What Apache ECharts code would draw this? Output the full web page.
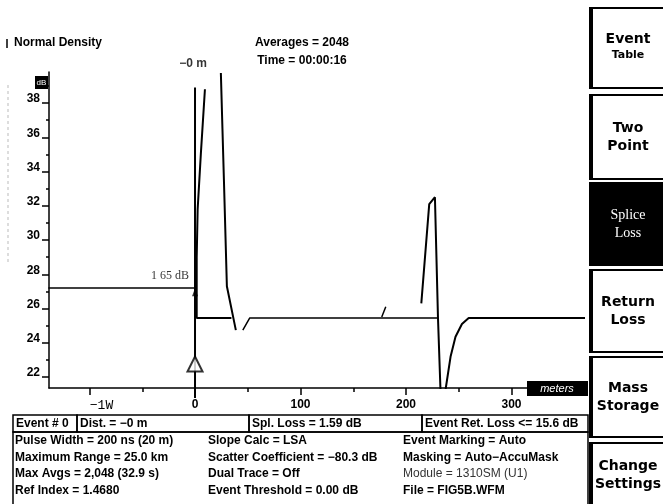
<!DOCTYPE html>
<html><head><meta charset="utf-8">
<script src="https://cdn.jsdelivr.net/npm/echarts@6/dist/echarts.min.js"></script>
<style>html,body{margin:0;padding:0;background:#fff}#c{width:663px;height:504px}</style>
</head><body><div id="c"></div>
<script>
// ---- axis ticks / labels ----
const yTickValues = [22, 24, 26, 28, 30, 32, 34, 36, 38];
const yMinorValues = [23, 25, 27, 29, 31, 33, 35, 37, 39];
const xTickValues = [-100, 0, 100, 200, 300];
const xMinorValues = [-50, 50, 150, 250, 350];
const xTickLabels = { '-100': '−1W', '0': '0', '100': '100', '200': '200', '300': '300' };
const cursorTickValues = [0];

// ---- trace data: [distance m, level dB] ----
const traceLaunch = [[-139, 27.2], [0, 27.2]];
const traceCursor = [[0, 20.5], [0, 38.9]];
const traceB = [[9.4, 38.8], [5.5, 35.0], [2.5, 31.8], [1.6, 29.0], [1.6, 25.45], [34.5, 25.45]];
const traceC = [[24.5, 39.75], [26.0, 36.5], [27.4, 33.5], [30.2, 27.3], [38.7, 24.74]];
const traceFiber = [[45.3, 24.74], [51.9, 25.45], [230.3, 25.45]];
const traceStub = [[177.0, 25.5], [180.8, 26.1]];
const traceSpike = [[214.5, 26.3], [222.0, 32.1], [227.4, 32.5], [230.3, 25.45], [232.6, 21.36], [233.5, 20.6]];
const traceRecovery = [[236.5, 20.6], [237.7, 21.36], [242.2, 23.18], [246.9, 24.35], [253.0, 25.1], [259.4, 25.45], [370, 25.45]];
const cursorMarker = [[0, 22.76]];
const arrowMarker = [[0, 26.95]];
const labelTop = [[0, 38.9]];
const labelLoss = [[0, 27.2]];

const FONT = '"Liberation Sans", Arial, sans-serif';
const chart = echarts.init(document.getElementById('c'), null, { renderer: 'canvas' });

function lineSeries(data, w) {
  return { type: 'line', data: data, symbol: 'none', silent: true, clip: true,
    lineStyle: { color: '#000', width: w || 2 }, animation: false, z: 3 };
}

const graphic = [];
function txt(x, y, s, opt) {
  opt = opt || {};
  graphic.push({ type: 'text', x: x, y: y, z: 20, style: {
    text: s, fill: opt.fill || '#000', textAlign: opt.align || 'left', textVerticalAlign: 'middle',
    font: opt.font || ('bold 12px ' + FONT) } });
}
function rect(x, y, w, h, opt) {
  opt = opt || {};
  graphic.push({ type: 'rect', z: opt.z || 15, shape: { x: x, y: y, width: w, height: h },
    style: { fill: opt.fill || null, stroke: opt.stroke || null, lineWidth: opt.lw || 1.5 } });
}

// header texts
txt(14, 43, 'Normal Density');
txt(302, 43, 'Averages = 2048', { align: 'center' });
txt(302, 61, 'Time = 00:00:16', { align: 'center' });
graphic.push({ type: 'line', z: 20, shape: { x1: 7, y1: 39, x2: 7, y2: 48 }, style: { stroke: '#000', lineWidth: 1.5 } });
graphic.push({ type: 'line', z: 1, shape: { x1: 8, y1: 85, x2: 8, y2: 265 }, style: { stroke: '#bbb', lineWidth: 1, lineDash: [3, 3] } });

// dB box
rect(35, 76, 13, 13, { fill: '#000' });
txt(41.5, 83, 'dB', { align: 'center', fill: '#fff', font: '8px ' + FONT });

// meters box
rect(527, 381, 61, 15, { fill: '#000', z: 16 });
txt(557, 388.5, 'meters', { align: 'center', fill: '#fff', font: 'italic 11px ' + FONT });

// info table row 1
const row1 = [[13, 64, 'Event # 0'], [77, 172, 'Dist. = −0 m'], [249, 173, 'Spl. Loss = 1.59 dB'], [422, 166, 'Event Ret. Loss <= 15.6 dB']];
row1.forEach(function (r) { rect(r[0], 415, r[1], 17, { stroke: '#000', lw: 1.5 }); txt(r[0] + 3, 424, r[2]); });
rect(13, 432, 575, 80, { stroke: '#000', lw: 1.5 });
const infoCols = [15, 208, 403];
const infoRows = [441, 458, 474, 491];
const infoText = [
  ['Pulse Width = 200 ns (20 m)', 'Maximum Range = 25.0 km', 'Max Avgs = 2,048 (32.9 s)', 'Ref Index = 1.4680'],
  ['Slope Calc = LSA', 'Scatter Coefficient = −80.3 dB', 'Dual Trace = Off', 'Event Threshold = 0.00 dB'],
  ['Event Marking = Auto', 'Masking = Auto−AccuMask', 'Module = 1310SM (U1)', 'File = FIG5B.WFM']
];
infoText.forEach(function (col, ci) {
  col.forEach(function (s, ri) {
    const light = (ci === 2 && ri === 2);
    txt(infoCols[ci], infoRows[ri], s, light ? { font: '12px ' + FONT, fill: '#333' } : {});
  });
});

// soft-key buttons
const buttons = [
  [8, 80, 'Event', 'Table', false],
  [95, 84, 'Two', 'Point', false],
  [183, 82, 'Splice', 'Loss', true],
  [270, 82, 'Return', 'Loss', false],
  [357, 80, 'Mass', 'Storage', false],
  [443, 64, 'Change', 'Settings', false]
];
buttons.forEach(function (b) {
  const y = b[0], h = b[1];
  if (b[4]) {
    rect(590, y, 80, h, { fill: '#000', stroke: '#000', lw: 2 });
    txt(628, y + h / 2 - 9, b[2], { align: 'center', fill: '#fff', font: '14px "Liberation Serif", serif' });
    txt(628, y + h / 2 + 9, b[3], { align: 'center', fill: '#fff', font: '14px "Liberation Serif", serif' });
  } else {
    rect(590, y, 80, h, { fill: '#fff', stroke: '#000', lw: 2 });
    rect(589, y, 4, h, { fill: '#000' });
    const small = b[3] === 'Table';
    txt(628, y + h / 2 - 9, b[2], { align: 'center', font: 'bold 14px "DejaVu Sans", sans-serif' });
    txt(628, y + h / 2 + (small ? 7 : 9), b[3], { align: 'center', font: 'bold ' + (small ? 11 : 14) + 'px "DejaVu Sans", sans-serif' });
  }
});

const option = {
  animation: false,
  backgroundColor: '#fff',
  grid: { left: 49, top: 72, width: 535, height: 316, containLabel: false },
  xAxis: [
    { type: 'value', min: -138.4, max: 368.7, position: 'bottom',
      axisLine: { show: true, onZero: false, lineStyle: { color: '#000', width: 1.5 } },
      axisTick: { show: true, customValues: xTickValues, length: 7, lineStyle: { color: '#000', width: 1.5 } },
      axisLabel: { show: true, customValues: xTickValues, margin: 11, color: '#000', fontSize: 12, fontWeight: 'bold', fontFamily: FONT,
        formatter: function (v) { return v === -100 ? '{m|' + xTickLabels[v] + '}' : xTickLabels[v]; },
        rich: { m: { fontFamily: '"Liberation Mono", monospace', fontWeight: 'normal', fontSize: 13, color: '#000', padding: [0, 0, 0, 24] } } },
      splitLine: { show: false } },
    { type: 'value', min: -138.4, max: 368.7, position: 'bottom', offset: 0,
      axisLine: { show: false, onZero: false },
      axisTick: { show: true, customValues: xMinorValues, length: 4, lineStyle: { color: '#000', width: 1.5 } },
      axisLabel: { show: false }, splitLine: { show: false } },
    { type: 'value', min: -138.4, max: 368.7, position: 'bottom', offset: 0,
      axisLine: { show: false, onZero: false },
      axisTick: { show: true, customValues: cursorTickValues, length: 10, lineStyle: { color: '#000', width: 2 } },
      axisLabel: { show: false }, splitLine: { show: false } }
  ],
  yAxis: [
    { type: 'value', min: 21.36, max: 39.81, position: 'left',
      axisLine: { show: true, onZero: false, lineStyle: { color: '#000', width: 1.5 } },
      axisTick: { show: true, customValues: yTickValues, length: 7, lineStyle: { color: '#000', width: 1.5 } },
      axisLabel: { show: true, customValues: yTickValues, margin: 9, color: '#000', fontSize: 12, fontWeight: 'bold', fontFamily: FONT, verticalAlign: 'bottom', lineHeight: 8 },
      splitLine: { show: false } },
    { type: 'value', min: 21.36, max: 39.81, position: 'left', offset: 0,
      axisLine: { show: false, onZero: false },
      axisTick: { show: true, customValues: yMinorValues, length: 3, lineStyle: { color: '#000', width: 1.5 } },
      axisLabel: { show: false }, splitLine: { show: false } }
  ],
  series: [
    lineSeries(traceLaunch, 1.5),
    lineSeries(traceCursor, 2),
    lineSeries(traceB, 2),
    lineSeries(traceC, 2),
    lineSeries(traceFiber, 1.5),
    lineSeries(traceStub, 1.5),
    lineSeries(traceSpike, 2),
    lineSeries(traceRecovery, 2),
    { type: 'scatter', data: cursorMarker, symbol: 'triangle', symbolSize: [15, 15], silent: true, z: 5,
      itemStyle: { color: '#fff', borderColor: '#000', borderWidth: 2 } },
    { type: 'scatter', data: arrowMarker, symbol: 'triangle', symbolSize: [6, 8], silent: true, z: 5,
      itemStyle: { color: '#000' } },
    { type: 'scatter', data: labelTop, symbolSize: 0, silent: true, z: 6,
      label: { show: true, position: 'top', distance: 18, offset: [-2, 0], formatter: '−0 m', color: '#000', fontSize: 12, fontWeight: 'bold', fontFamily: FONT } },
    { type: 'scatter', data: labelLoss, symbolSize: 0, silent: true, z: 6,
      label: { show: true, position: 'left', distance: 6, offset: [0, -12], formatter: '1 65 dB', color: '#000', fontSize: 12, fontFamily: '"Liberation Serif", serif' } }
  ],
  graphic: graphic
};
chart.setOption(option);
</script>
</body></html>
